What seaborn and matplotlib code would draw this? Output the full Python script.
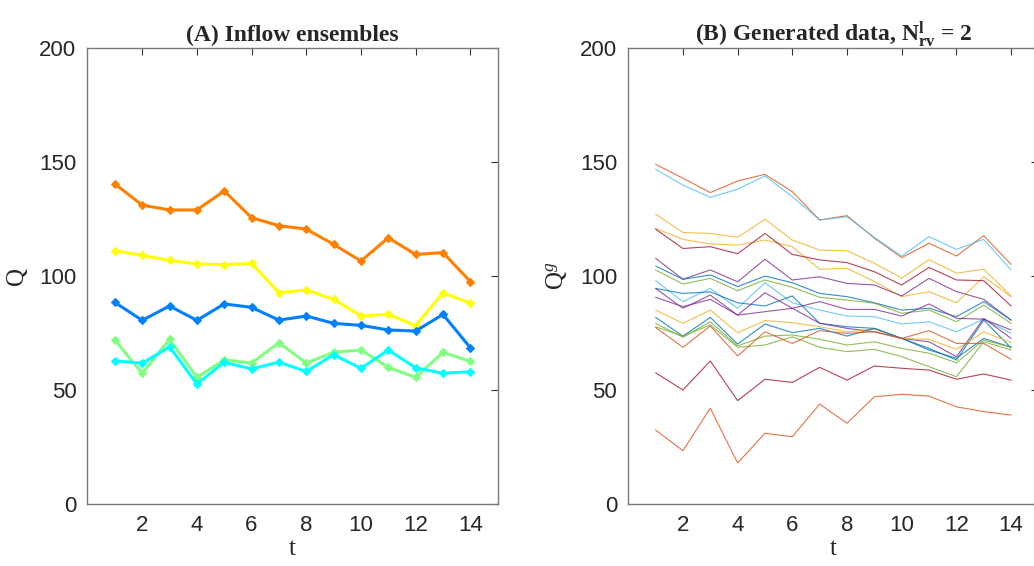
import numpy as np
import pandas as pd
import matplotlib
matplotlib.use("Agg")
import matplotlib.pyplot as plt
import seaborn as sns

# time steps
t = list(range(1, 15))

# (A) inflow ensembles
inflow_orange = [140.3, 131.0, 128.9, 128.9, 137.2, 125.5, 122.0, 120.5, 113.8, 106.5, 116.7, 109.4, 110.2, 97.5]
inflow_yellow = [111.0, 109.0, 106.8, 105.2, 104.9, 105.5, 92.6, 93.8, 89.7, 82.5, 83.1, 78.2, 92.6, 88.0]
inflow_blue = [88.4, 80.5, 86.8, 80.5, 87.7, 86.2, 80.6, 82.4, 79.2, 78.3, 76.3, 75.8, 83.1, 68.5]
inflow_green = [71.9, 57.3, 72.2, 55.5, 63.2, 61.8, 70.7, 61.8, 66.5, 67.5, 59.9, 55.5, 66.5, 62.5]
inflow_cyan = [62.8, 61.7, 68.9, 52.6, 62.1, 59.2, 62.2, 58.1, 65.4, 59.5, 67.5, 59.7, 57.3, 58.0]
inflow_series = [inflow_orange, inflow_yellow, inflow_blue, inflow_green, inflow_cyan]
inflow_colors = ["#ff8000", "#ffff00", "#0080ff", "#80ff80", "#00ffff"]

# (B) generated series
gen_orange_top = [148.9, 142.8, 136.5, 141.6, 144.5, 136.9, 124.5, 126.4, 116.5, 108.0, 114.3, 108.7, 117.6, 105.0]
gen_lightblue_top = [146.7, 139.8, 134.4, 138.0, 143.8, 134.7, 124.5, 125.9, 116.9, 108.7, 117.2, 111.6, 116.0, 102.6]
gen_yellow_1 = [127.1, 119.0, 118.6, 116.9, 124.8, 115.7, 111.3, 111.0, 105.5, 99.0, 107.1, 101.2, 102.9, 91.2]
gen_yellow_2 = [120.8, 116.0, 114.0, 113.5, 115.7, 112.8, 102.9, 103.3, 97.5, 90.9, 93.1, 88.2, 99.6, 90.9]
gen_darkred_1 = [120.5, 112.0, 112.8, 109.7, 118.6, 109.4, 107.0, 105.8, 101.8, 96.0, 103.7, 98.2, 97.9, 86.8]
gen_purple_1 = [107.7, 98.5, 102.6, 97.4, 107.3, 98.2, 99.6, 96.7, 96.0, 91.2, 98.9, 93.1, 89.7, 80.6]
gen_blue_1 = [104.3, 98.5, 100.4, 95.3, 99.9, 97.0, 92.3, 90.9, 88.2, 85.0, 85.8, 82.1, 88.7, 80.6]
gen_green_1 = [102.6, 96.4, 98.9, 93.5, 98.2, 95.0, 90.6, 89.4, 88.0, 83.6, 85.0, 79.9, 87.2, 79.2]
gen_lightblue_1 = [97.9, 88.7, 94.5, 85.8, 97.0, 88.2, 85.0, 82.4, 82.1, 78.9, 79.9, 75.5, 81.0, 74.8]
gen_blue_2 = [94.5, 92.3, 93.0, 88.2, 86.8, 91.2, 79.2, 77.7, 77.0, 72.6, 68.2, 63.1, 80.6, 68.4]
gen_purple_2 = [94.5, 85.8, 91.6, 82.8, 92.6, 85.8, 79.2, 77.0, 75.5, 72.6, 71.1, 64.6, 81.4, 72.6]
gen_purple_3 = [90.6, 86.5, 89.7, 82.8, 84.3, 85.8, 88.7, 85.3, 85.3, 82.4, 87.7, 81.4, 81.0, 76.3]
gen_yellow_3 = [85.0, 79.2, 85.0, 75.1, 80.4, 79.5, 77.7, 75.5, 76.6, 72.6, 72.2, 67.8, 75.5, 70.7]
gen_blue_3 = [81.8, 73.6, 81.8, 70.1, 78.9, 75.1, 77.0, 73.6, 77.0, 72.6, 67.5, 63.9, 72.6, 68.7]
gen_green_2 = [79.2, 73.1, 79.9, 69.3, 73.6, 74.1, 72.2, 69.7, 71.1, 68.2, 66.1, 61.9, 71.9, 68.7]
gen_green_3 = [77.7, 73.6, 78.5, 68.7, 69.7, 73.3, 68.7, 66.8, 67.8, 64.6, 60.2, 55.8, 71.1, 67.5]
gen_orange_1 = [77.4, 68.7, 78.0, 64.9, 75.5, 70.4, 76.0, 74.8, 75.5, 72.6, 76.0, 70.4, 70.4, 63.4]
gen_darkred_2 = [57.5, 50.0, 62.7, 45.3, 54.7, 53.3, 59.9, 54.3, 60.5, 59.5, 58.7, 54.7, 57.0, 54.3]
gen_orange_2 = [32.4, 23.4, 42.0, 18.0, 31.0, 29.5, 43.8, 35.4, 47.0, 48.1, 47.3, 42.6, 40.5, 39.0]

generated_series = [
    gen_orange_top, gen_lightblue_top, gen_yellow_1, gen_yellow_2, gen_darkred_1,
    gen_purple_1, gen_blue_1, gen_green_1, gen_lightblue_1, gen_blue_2, gen_purple_2,
    gen_purple_3, gen_yellow_3, gen_blue_3, gen_green_2, gen_green_3, gen_orange_1,
    gen_darkred_2, gen_orange_2,
]
generated_colors = [
    "#D95319", "#4DBEEE", "#EDB120", "#EDB120", "#A2142F",
    "#7E2F8E", "#0072BD", "#77AC30", "#4DBEEE", "#0072BD", "#7E2F8E",
    "#7E2F8E", "#EDB120", "#0072BD", "#77AC30", "#77AC30", "#D95319",
    "#A2142F", "#D95319",
]

titles = ["(A) Inflow ensembles",
          r"(B) Generated data, $\mathbf{N}_{\mathbf{rv}}^{\mathbf{l}}$ = 2"]
ylabels = ["Q", r"Q$^{g}$"]
yticks = [0, 50, 100, 150, 200]
xticks = [2, 4, 6, 8, 10, 12, 14]

sns.set_theme(style="white")
plt.rcParams["font.family"] = ["Liberation Sans", "DejaVu Sans"]
plt.rcParams["mathtext.fontset"] = "custom"
plt.rcParams["mathtext.rm"] = "Liberation Serif"
plt.rcParams["mathtext.it"] = "Liberation Serif:italic"
plt.rcParams["mathtext.bf"] = "Liberation Serif:bold"

fig = plt.figure(figsize=(10.34, 5.66), dpi=100)
ax_a = fig.add_axes([0.0846, 0.1095, 0.3967, 0.8062])
ax_b = fig.add_axes([0.6076, 0.1095, 0.3967, 0.8062])

for vals, col in zip(inflow_series, inflow_colors):
    sns.lineplot(x=t, y=vals, ax=ax_a, color=col, linewidth=2.2,
                 marker="D", markersize=4, markeredgewidth=0.8,
                 markeredgecolor=col, legend=False)

for vals, col in zip(generated_series, generated_colors):
    sns.lineplot(x=t, y=vals, ax=ax_b, color=col, linewidth=0.8,
                 alpha=0.8, legend=False)

for ax, title, ylab in zip([ax_a, ax_b], titles, ylabels):
    ax.set_xlim(0, 15)
    ax.set_ylim(0, 200)
    ax.set_xticks(xticks)
    ax.set_yticks(yticks)
    ax.tick_params(direction="in", length=5, width=0.8, color="#333333",
                   top=True, right=True, labelsize=16, labelcolor="#262626",
                   pad=8)
    for sp in ax.spines.values():
        sp.set_color("#7a7a7a")
        sp.set_linewidth(1.0)
    ax.set_title(title, fontsize=17, fontweight="bold",
                 family="Liberation Serif", pad=5)
    ax.set_xlabel("t", fontsize=18, family="Liberation Serif", labelpad=1,
                  color="#262626")
    ax.set_ylabel(ylab, fontsize=18, family="Liberation Serif", labelpad=8,
                  color="#262626")

fig.savefig("out.png", dpi=100)
